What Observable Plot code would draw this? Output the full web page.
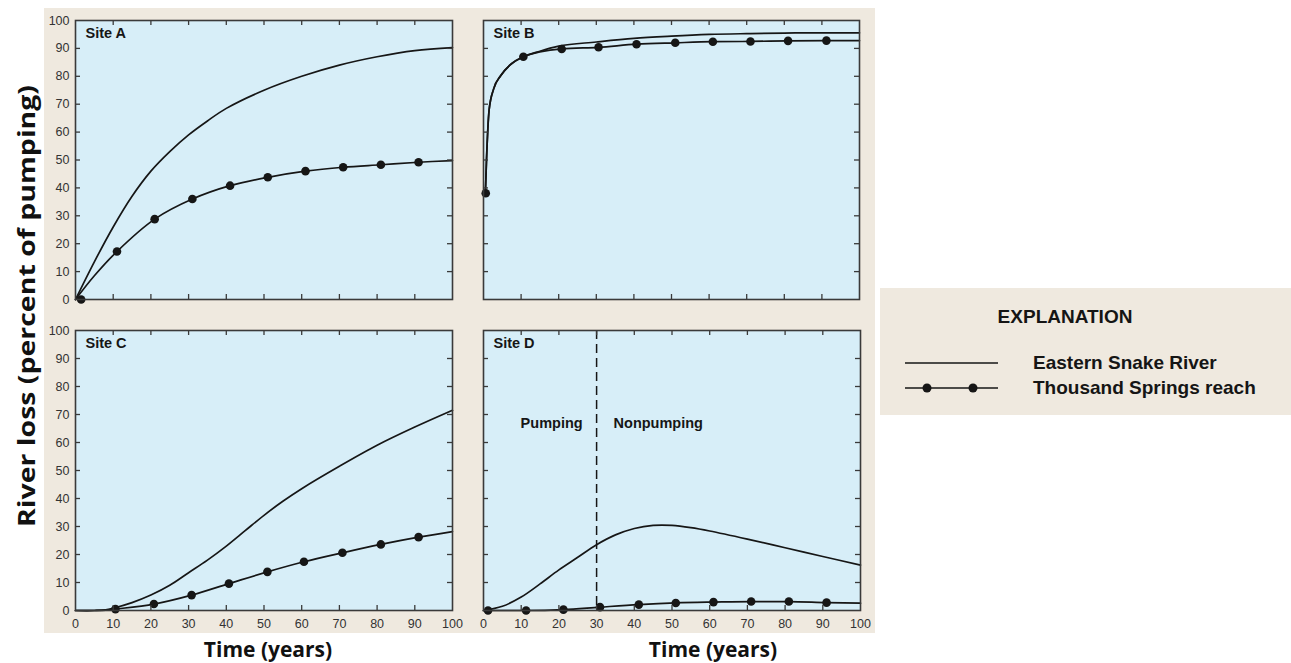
<!DOCTYPE html>
<html>
<head>
<meta charset="utf-8">
<script src="https://cdn.jsdelivr.net/npm/d3@7"></script>
<script src="https://cdn.jsdelivr.net/npm/@observablehq/plot@0.6"></script>
<style>
  body { margin: 0; background: #ffffff; }
  #root { position: relative; width: 1291px; height: 663px; overflow: hidden; font-family: "Liberation Sans", Arial, sans-serif; }
  .abs { position: absolute; }
  .title { font-family: "Open Sans", sans-serif; font-weight: 700; color: #111; white-space: nowrap; }
  .leg { font-family: "Liberation Sans", Arial, sans-serif; font-weight: 700; color: #151515; white-space: nowrap; }
</style>
</head>
<body>
<div id="root"></div>
<script>
// ---------------- data ----------------
const siteLabels = ["Site A", "Site B", "Site C", "Site D"];
const xTicks = [0, 10, 20, 30, 40, 50, 60, 70, 80, 90, 100];
const yTicks = [0, 10, 20, 30, 40, 50, 60, 70, 80, 90, 100];
const xTitle = "Time (years)";
const yTitle = "River loss (percent of pumping)";
const legendTitle = "EXPLANATION";
const seriesNames = ["Eastern Snake River", "Thousand Springs reach"];

// Site A
const eastA_t = [0, 5, 10, 15, 20, 25, 30, 35, 40, 50, 60, 70, 80, 90, 100];
const eastA_v = [0, 13.5, 26, 37, 46, 53, 59, 64, 68.5, 75, 80, 84, 87, 89.2, 90.3];
const tsLineA_t = [0, 5, 11, 21, 31, 41, 51, 61, 71, 81, 91, 100];
const tsLineA_v = [0, 8.5, 17.2, 28.8, 36, 40.8, 43.8, 46, 47.4, 48.3, 49.2, 49.8];
const tsDotsA_t = [1.5, 11, 21, 31, 41, 51, 61, 71, 81, 91];
const tsDotsA_v = [0, 17.2, 28.8, 36, 40.8, 43.8, 46, 47.4, 48.3, 49.2];

// Site B
const eastB_t = [0.5, 0.8, 1.5, 2.7, 4.6, 7, 10.6, 15, 20, 30, 40, 50, 60, 70, 80, 90, 100];
const eastB_v = [38, 50, 68, 75.5, 80.3, 84, 87, 89, 90.8, 92.3, 93.6, 94.4, 95, 95.3, 95.5, 95.6, 95.6];
const tsLineB_t = [0.5, 0.8, 1.5, 2.7, 4.6, 7, 10.6, 20.8, 30.6, 40.7, 51, 61, 71, 81, 91.2, 100];
const tsLineB_v = [38, 50, 68, 75.5, 80.3, 84, 87, 89.8, 90.4, 91.5, 92, 92.4, 92.5, 92.7, 92.8, 92.8];
const tsDotsB_t = [0.6, 10.6, 20.8, 30.6, 40.7, 51, 61, 71, 81, 91.2];
const tsDotsB_v = [38.1, 87, 89.8, 90.4, 91.5, 92, 92.4, 92.5, 92.7, 92.8];

// Site C
const eastC_t = [0, 5, 8, 10, 15, 20, 25, 30, 35, 40, 45, 50, 55, 60, 70, 80, 90, 100];
const eastC_v = [0, 0, 0.2, 0.8, 2.8, 5.5, 9, 13.5, 18, 23, 28.5, 34, 39, 43.5, 51.5, 59, 65.5, 71.5];
const tsLineC_t = [0, 5, 8, 10.6, 20.8, 30.8, 40.7, 50.9, 60.6, 70.8, 81, 91, 100];
const tsLineC_v = [0, 0, 0.1, 0.5, 2.3, 5.5, 9.6, 13.8, 17.4, 20.6, 23.6, 26.2, 28.2];
const tsDotsC_t = [10.6, 20.8, 30.8, 40.7, 50.9, 60.6, 70.8, 81, 91];
const tsDotsC_v = [0.5, 2.3, 5.5, 9.6, 13.8, 17.4, 20.6, 23.6, 26.2];

// Site D
const eastD_t = [0, 5, 10, 15, 20, 25, 30, 35, 40, 45, 50, 55, 60, 70, 80, 90, 100];
const eastD_v = [0, 1.5, 4.8, 9.5, 14.5, 19, 23.5, 27, 29.3, 30.4, 30.4, 29.6, 28.4, 25.5, 22.4, 19.3, 16.2];
const tsLineD_t = [0, 1.2, 11.3, 21.2, 30.9, 41.2, 51, 61, 71, 81, 91, 100];
const tsLineD_v = [0, 0, 0, 0.3, 1.2, 2.1, 2.7, 3.0, 3.2, 3.2, 2.8, 2.6];
const tsDotsD_t = [1.2, 11.3, 21.2, 30.9, 41.2, 51, 61, 71, 81, 91];
const tsDotsD_v = [0, 0, 0.3, 1.2, 2.1, 2.7, 3.0, 3.2, 3.2, 2.8];
const dPhaseBreak = [30];
const dPhaseLabels = ["Pumping", "Nonpumping"];
const dPhaseLabelX = [26.3, 34.5];
const dPhaseLabelY = [67, 67];

// ---------------- helpers ----------------
const zip = (t, v) => t.map((d, i) => ({t: d, v: v[i]}));
const BEIGE = "#efe9df";
const BLUE = "#d7eef8";
const INK = "#161616";
const FRAME = "#3a3a3a";

const root = document.getElementById("root");

function addDiv(html, css, cls) {
  const el = document.createElement("div");
  el.className = "abs " + (cls || "");
  el.innerHTML = html;
  Object.assign(el.style, css);
  root.appendChild(el);
  return el;
}

// beige figure background and legend box
addDiv("", {left: "44px", top: "8px", width: "831px", height: "625px", background: BEIGE});
addDiv("", {left: "880px", top: "288px", width: "411px", height: "127px", background: BEIGE});

function panel({label, east, tsLine, tsDots, left, top, W, H, showX, showY, eastCurve = "catmull-rom", tsCurve = "catmull-rom", extra = []}) {
  const ml = 40, mr = 14, mt = 6, mb = 28;
  const inner = xTicks.slice(1, -1);
  const innerY = yTicks.slice(1, -1);
  const chart = Plot.plot({
    width: ml + W + mr,
    height: mt + H + mb,
    marginLeft: ml, marginRight: mr, marginTop: mt, marginBottom: mb,
    style: {background: "transparent", fontFamily: "'Liberation Sans', Arial, sans-serif", fontSize: "12.5px", color: "#333"},
    x: {domain: [0, 100], ticks: xTicks, tickSize: 0, tickPadding: 9, axis: showX ? "bottom" : null, label: null},
    y: {domain: [0, 100], ticks: yTicks, tickSize: 0, tickPadding: 6, axis: showY ? "left" : null, label: null},
    marks: [
      Plot.frame({fill: BLUE, stroke: "none"}),
      ...extra,
      Plot.line(east, {x: "t", y: "v", curve: eastCurve, stroke: INK, strokeWidth: 1.7}),
      Plot.line(tsLine, {x: "t", y: "v", curve: tsCurve, stroke: INK, strokeWidth: 1.7}),
      Plot.dot(tsDots, {x: "t", y: "v", r: 4.3, fill: INK, stroke: "none"}),
      Plot.tickX(inner, {x: d => d, insetTop: H - 5, stroke: FRAME, strokeWidth: 1.3}),
      Plot.tickX(inner, {x: d => d, insetBottom: H - 5, stroke: FRAME, strokeWidth: 1.3}),
      Plot.tickY(innerY, {y: d => d, insetRight: W - 5, stroke: FRAME, strokeWidth: 1.3}),
      Plot.tickY(innerY, {y: d => d, insetLeft: W - 5, stroke: FRAME, strokeWidth: 1.3}),
      Plot.text([label], {text: d => d, frameAnchor: "top-left", dx: 10, dy: 7, lineAnchor: "top", textAnchor: "start",
        fontWeight: "bold", fontSize: 14.5, fill: INK}),
      Plot.frame({stroke: FRAME, strokeWidth: 1.6, fill: "none"})
    ]
  });
  chart.style.position = "absolute";
  chart.style.left = (left - ml) + "px";
  chart.style.top = (top - mt) + "px";
  root.appendChild(chart);
}

const phaseLabels = dPhaseLabels.map((s, i) => ({s, x: dPhaseLabelX[i], y: dPhaseLabelY[i]}));
const extraD = [
  Plot.ruleX(dPhaseBreak, {x: d => d, stroke: INK, strokeWidth: 1.5, strokeDasharray: "9,5"}),
  Plot.text(phaseLabels.slice(0, 1), {x: "x", y: "y", text: "s", textAnchor: "end", fontWeight: "bold", fontSize: 14.5, fill: INK}),
  Plot.text(phaseLabels.slice(1), {x: "x", y: "y", text: "s", textAnchor: "start", fontWeight: "bold", fontSize: 14.5, fill: INK})
];

panel({label: siteLabels[0], east: zip(eastA_t, eastA_v), tsLine: zip(tsLineA_t, tsLineA_v), tsDots: zip(tsDotsA_t, tsDotsA_v),
  left: 75, top: 20, W: 377, H: 279, showX: false, showY: true});
panel({label: siteLabels[1], east: zip(eastB_t, eastB_v), tsLine: zip(tsLineB_t, tsLineB_v), tsDots: zip(tsDotsB_t, tsDotsB_v),
  left: 483, top: 20, W: 376, H: 279, showX: false, showY: false, eastCurve: "monotone-x", tsCurve: "monotone-x"});
panel({label: siteLabels[2], east: zip(eastC_t, eastC_v), tsLine: zip(tsLineC_t, tsLineC_v), tsDots: zip(tsDotsC_t, tsDotsC_v),
  left: 75, top: 330, W: 377, H: 280, showX: true, showY: true});
panel({label: siteLabels[3], east: zip(eastD_t, eastD_v), tsLine: zip(tsLineD_t, tsLineD_v), tsDots: zip(tsDotsD_t, tsDotsD_v),
  left: 483, top: 330, W: 377, H: 280, showX: true, showY: false, tsCurve: "monotone-x", extra: extraD});

// axis titles
addDiv(xTitle, {left: "268px", top: "649px", fontSize: "21px", transform: "translate(-50%, -50%)"}, "title");
addDiv(xTitle, {left: "713px", top: "649px", fontSize: "21px", transform: "translate(-50%, -50%)"}, "title");

// rotated y title (stretched to the reference length)
const ySvg = document.createElementNS("http://www.w3.org/2000/svg", "svg");
ySvg.setAttribute("width", "50"); ySvg.setAttribute("height", "663");
ySvg.style.position = "absolute"; ySvg.style.left = "0px"; ySvg.style.top = "0px";
const yt = document.createElementNS("http://www.w3.org/2000/svg", "text");
yt.textContent = yTitle;
yt.setAttribute("transform", "translate(25,306) rotate(-90)");
yt.setAttribute("text-anchor", "middle");
yt.setAttribute("dominant-baseline", "central");
yt.setAttribute("textLength", "442");
yt.setAttribute("lengthAdjust", "spacingAndGlyphs");
yt.setAttribute("font-family", "'Open Sans', sans-serif");
yt.setAttribute("font-weight", "700");
yt.setAttribute("font-size", "24");
yt.setAttribute("fill", "#111");
ySvg.appendChild(yt);
root.appendChild(ySvg);

// legend
addDiv(legendTitle, {left: "1065px", top: "317px", fontSize: "19px", transform: "translate(-50%, -50%)"}, "leg");
addDiv(seriesNames[0], {left: "1033px", top: "363px", fontSize: "19px", transform: "translate(0, -50%)"}, "leg");
addDiv(seriesNames[1], {left: "1033px", top: "388px", fontSize: "19px", transform: "translate(0, -50%)"}, "leg");
addDiv(
  `<svg width="100" height="40" style="display:block">
     <line x1="0" x2="93" y1="5" y2="5" stroke="${INK}" stroke-width="1.7"/>
     <line x1="0" x2="93" y1="30" y2="30" stroke="${INK}" stroke-width="1.7"/>
     <circle cx="22" cy="30" r="4.5" fill="${INK}"/>
     <circle cx="68" cy="30" r="4.5" fill="${INK}"/>
   </svg>`,
  {left: "905px", top: "358px"});
</script>
</body>
</html>
